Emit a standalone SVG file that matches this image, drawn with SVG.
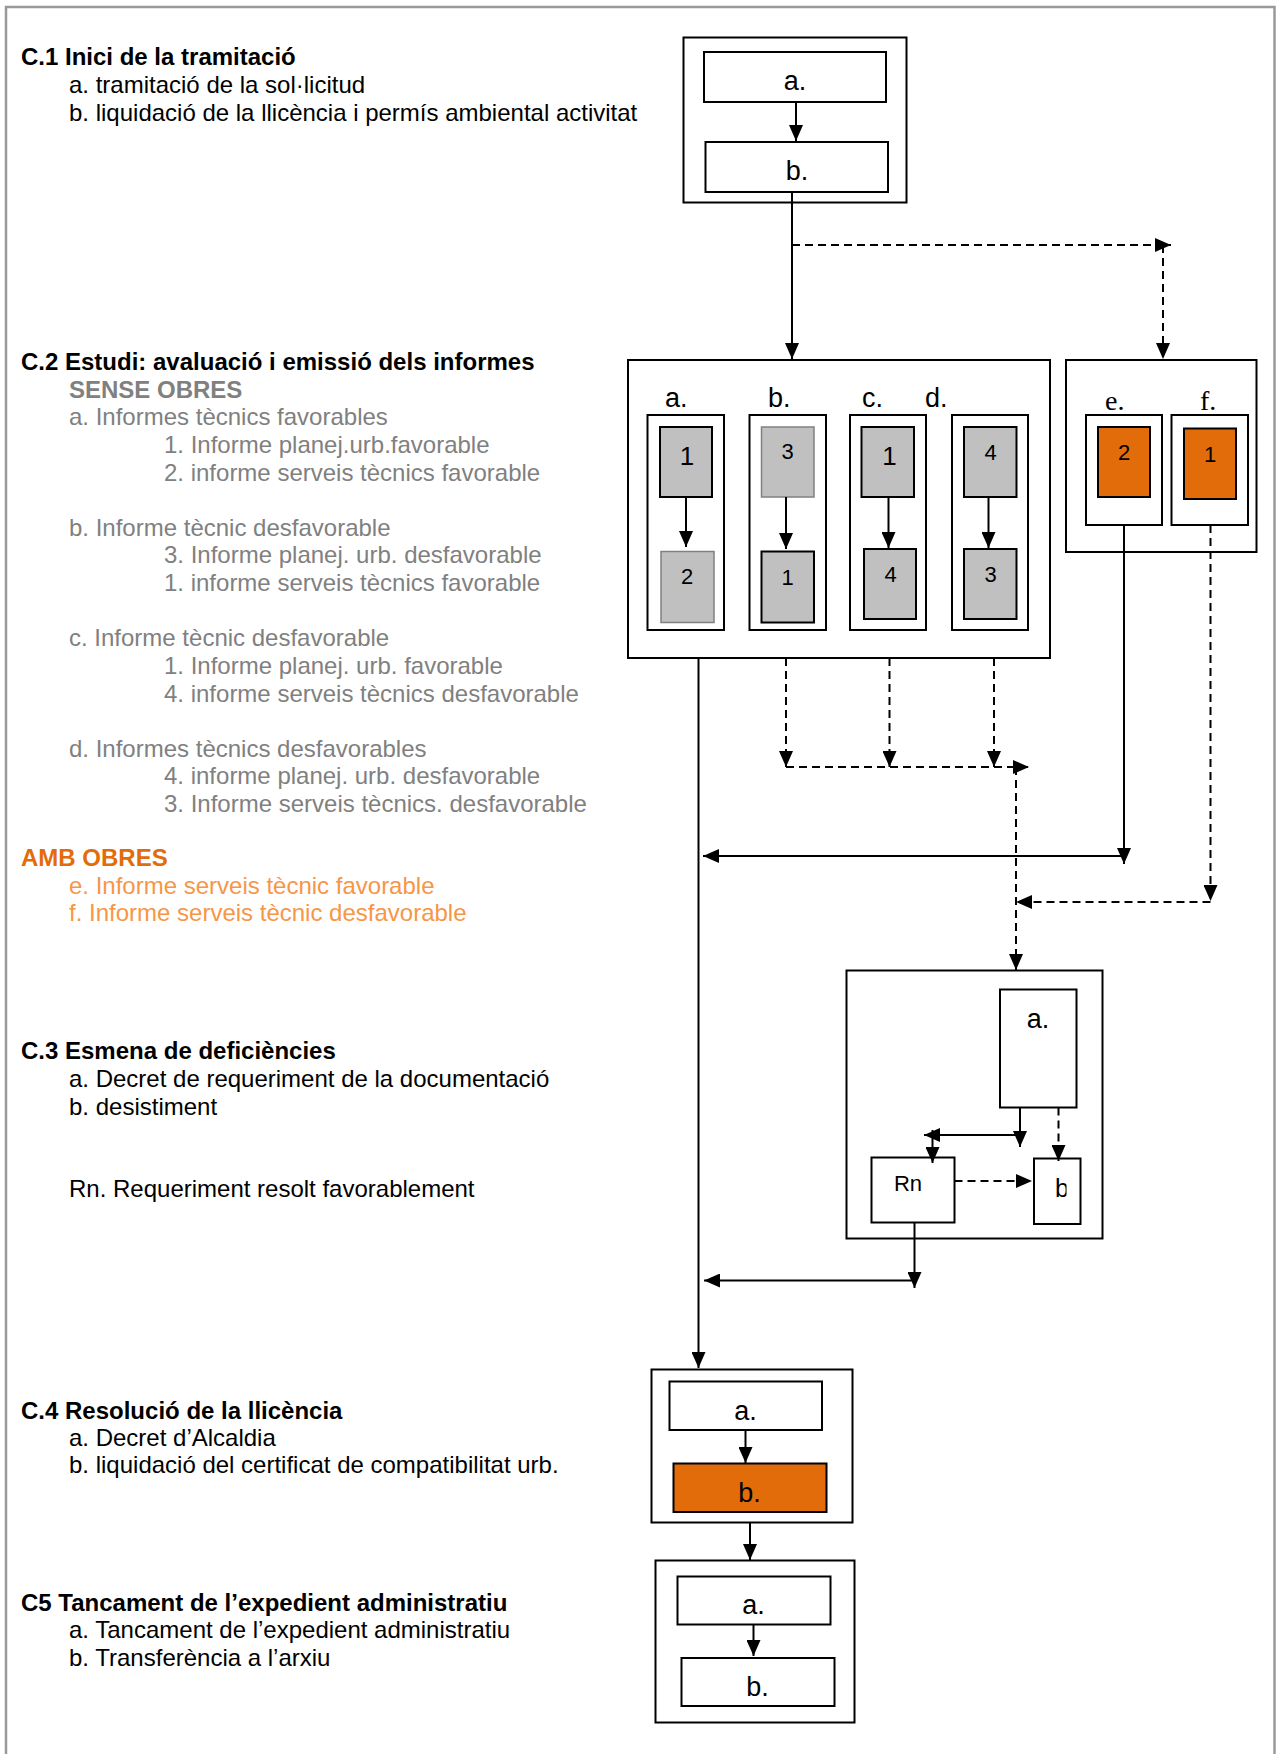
<svg xmlns="http://www.w3.org/2000/svg" width="1276" height="1754" viewBox="0 0 1276 1754">
<defs>
<style>
.t{font-family:"Liberation Sans",Arial,sans-serif;font-size:24px;fill:#000}
.b{font-weight:bold}
.g{fill:#808080}
.o{fill:#E36C0A}
.lo{fill:#F79646}
.box{fill:#fff;stroke:#000;stroke-width:2}
.gbox{fill:#C0C0C0;stroke:#000;stroke-width:2}
.gboxl{fill:#C0C0C0;stroke:#808080;stroke-width:1.5}
.obox{fill:#E36C0A;stroke:#000;stroke-width:2}
.lbl{font-family:"Liberation Sans",Arial,sans-serif;font-size:27px;fill:#000;text-anchor:middle}
.lbls{font-family:"Liberation Sans",Arial,sans-serif;font-size:27px;fill:#000}
.ser{font-family:"Liberation Serif","Times New Roman",serif;font-size:28px;fill:#000}
.num{font-family:"Liberation Sans",Arial,sans-serif;font-size:22px;fill:#000;text-anchor:middle}
.numl{font-family:"Liberation Sans",Arial,sans-serif;font-size:26px;fill:#000;text-anchor:middle}
.s{fill:none;stroke:#000;stroke-width:2;marker-end:url(#ah)}
.sn{fill:none;stroke:#000;stroke-width:2}
.d{fill:none;stroke:#000;stroke-width:2;stroke-dasharray:8 5;marker-end:url(#ah)}
.dn{fill:none;stroke:#000;stroke-width:2;stroke-dasharray:8 5}
</style>
<marker id="ah" markerUnits="userSpaceOnUse" markerWidth="16" markerHeight="14" refX="16" refY="7" orient="auto">
<path d="M0,0 L16,7 L0,14 z" fill="#000"/>
</marker>
<clipPath id="clipb"><rect x="1034" y="1158" width="32.5" height="66"/></clipPath>
</defs>
<rect x="0" y="0" width="1276" height="1754" fill="#fff"/>
<path d="M6,1754 V7 H1274.5 V1754" fill="none" stroke="#999" stroke-width="2.5"/>

<g id="legend">
<text class="t b" x="21" y="65">C.1 Inici de la tramitació</text>
<text class="t" x="69" y="93">a. tramitació de la sol·licitud</text>
<text class="t" x="69" y="121">b. liquidació de la llicència i permís ambiental activitat</text>

<text class="t b" x="21" y="370">C.2 Estudi: avaluació i emissió dels informes</text>
<text class="t b g" x="69" y="398">SENSE OBRES</text>
<text class="t g" x="69" y="425">a. Informes tècnics favorables</text>
<text class="t g" x="164" y="453">1. Informe planej.urb.favorable</text>
<text class="t g" x="164" y="481">2. informe serveis tècnics favorable</text>
<text class="t g" x="69" y="536">b. Informe tècnic desfavorable</text>
<text class="t g" x="164" y="563">3. Informe planej. urb. desfavorable</text>
<text class="t g" x="164" y="591">1. informe serveis tècnics favorable</text>
<text class="t g" x="69" y="646">c. Informe tècnic desfavorable</text>
<text class="t g" x="164" y="674">1. Informe planej. urb. favorable</text>
<text class="t g" x="164" y="702">4. informe serveis tècnics desfavorable</text>
<text class="t g" x="69" y="757">d. Informes tècnics desfavorables</text>
<text class="t g" x="164" y="784">4. informe planej. urb. desfavorable</text>
<text class="t g" x="164" y="812">3. Informe serveis tècnics. desfavorable</text>
<text class="t b o" x="21" y="866">AMB OBRES</text>
<text class="t lo" x="69" y="894">e. Informe serveis tècnic favorable</text>
<text class="t lo" x="69" y="921">f. Informe serveis tècnic desfavorable</text>

<text class="t b" x="21" y="1059">C.3 Esmena de deficiències</text>
<text class="t" x="69" y="1087">a. Decret de requeriment de la documentació</text>
<text class="t" x="69" y="1115">b. desistiment</text>
<text class="t" x="69" y="1197">Rn. Requeriment resolt favorablement</text>

<text class="t b" x="21" y="1419">C.4 Resolució de la llicència</text>
<text class="t" x="69" y="1446">a. Decret d’Alcaldia</text>
<text class="t" x="69" y="1473">b. liquidació del certificat de compatibilitat urb.</text>

<text class="t b" x="21" y="1611">C5 Tancament de l’expedient administratiu</text>
<text class="t" x="69" y="1638">a. Tancament de l’expedient administratiu</text>
<text class="t" x="69" y="1666">b. Transferència a l’arxiu</text>
</g>

<g id="c1">
<rect class="box" x="683.5" y="37.5" width="223" height="165"/>
<rect class="box" x="704" y="52" width="182" height="50"/>
<text class="lbl" x="795" y="90">a.</text>
<rect class="box" x="705.5" y="142" width="182.5" height="50"/>
<text class="lbl" x="797" y="180">b.</text>
</g>

<g id="c2-left">
<rect class="box" x="628" y="360" width="422" height="298"/>
<text class="lbls" x="665" y="407">a.</text>
<text class="lbls" x="768" y="407">b.</text>
<text class="lbls" x="862" y="407">c.</text>
<text class="lbls" x="925" y="407">d.</text>
<rect class="box" x="647.5" y="415" width="76.5" height="215"/>
<rect class="box" x="749.5" y="415" width="76.5" height="215"/>
<rect class="box" x="850" y="415" width="76" height="215"/>
<rect class="box" x="952" y="415" width="76" height="215"/>
<rect class="gbox" x="660" y="427" width="52" height="70"/>
<text class="numl" x="687" y="465">1</text>
<rect class="gboxl" x="661" y="551.5" width="53" height="71"/>
<text class="num" x="687" y="584">2</text>
<rect class="gboxl" x="761.5" y="427" width="52.5" height="70"/>
<text class="num" x="787.5" y="459">3</text>
<rect class="gbox" x="761.5" y="551.5" width="52.5" height="71"/>
<text class="num" x="787.5" y="585">1</text>
<rect class="gbox" x="861.5" y="427" width="52.5" height="70"/>
<text class="numl" x="889.5" y="465">1</text>
<rect class="gbox" x="864" y="549" width="52" height="70"/>
<text class="num" x="890.5" y="582">4</text>
<rect class="gbox" x="964" y="427" width="52.5" height="70"/>
<text class="num" x="990.5" y="460">4</text>
<rect class="gbox" x="964" y="549" width="52.5" height="70"/>
<text class="num" x="990.5" y="582">3</text>
</g>

<g id="c2-right">
<rect class="box" x="1066" y="360" width="190.5" height="192"/>
<text class="ser" x="1105" y="410">e.</text>
<text class="ser" x="1200" y="410">f.</text>
<rect class="box" x="1086" y="415" width="76" height="110"/>
<rect class="box" x="1171.5" y="415" width="76.5" height="110"/>
<rect class="obox" x="1098" y="427" width="52" height="70"/>
<text class="num" x="1124" y="460">2</text>
<rect class="obox" x="1184" y="428.5" width="52" height="70.5"/>
<text class="num" x="1210" y="462">1</text>
</g>

<g id="c3">
<rect class="box" x="846.5" y="970.5" width="256" height="268"/>
<rect class="box" x="1000" y="989.5" width="76.5" height="118"/>
<text class="lbl" x="1038" y="1028">a.</text>
<rect class="box" x="871.5" y="1157.5" width="83" height="65"/>
<text class="num" x="908" y="1191">Rn</text>
<rect class="box" x="1034" y="1158.5" width="46.5" height="65.5"/>
<text class="lbls" style="font-size:25px" clip-path="url(#clipb)" x="1055" y="1197">b</text>
</g>

<g id="c4">
<rect class="box" x="651.5" y="1369.5" width="201" height="153"/>
<rect class="box" x="669.5" y="1381.5" width="152.5" height="48.5"/>
<text class="lbl" x="745.5" y="1420">a.</text>
<rect class="obox" x="673.5" y="1463.5" width="153" height="48.5"/>
<text class="lbl" x="749.5" y="1502">b.</text>
</g>

<g id="c5">
<rect class="box" x="655.5" y="1560.5" width="199" height="162"/>
<rect class="box" x="677.5" y="1576.5" width="153" height="48"/>
<text class="lbl" x="753.5" y="1614">a.</text>
<rect class="box" x="681.5" y="1658" width="153" height="48"/>
<text class="lbl" x="757.5" y="1696">b.</text>
</g>

<g id="connectors">
<path class="s" d="M796,102 V141"/>
<path class="s" d="M792,192 V359"/>
<path class="d" d="M792,245 H1171"/>
<path class="d" d="M1163,245 V359"/>
<path class="s" d="M686,497 V547"/>
<path class="s" d="M786,497 V549"/>
<path class="s" d="M888.5,497 V548"/>
<path class="s" d="M988.5,497 V548"/>
<path class="s" d="M698.5,658 V1368"/>
<path class="d" d="M786,658 V767"/>
<path class="d" d="M889.5,658 V767"/>
<path class="d" d="M994,658 V767"/>
<path class="d" d="M786,767 H1029"/>
<path class="d" d="M1016,767 V970"/>
<path class="s" d="M1124,525 V864"/>
<path class="s" d="M1124,856 H703"/>
<path class="d" d="M1210.5,525 V901"/>
<path class="d" d="M1210.5,902 H1016"/>
<path class="s" d="M1020,1107.5 V1147"/>
<path class="s" d="M1020,1135 H924"/>
<path class="s" d="M932.5,1130 V1163"/>
<path class="d" d="M1058.5,1107.5 V1161"/>
<path class="d" d="M954.5,1181 H1032"/>
<path class="s" d="M914.5,1222.5 V1288"/>
<path class="s" d="M914.5,1280.5 H704"/>
<path class="s" d="M745.5,1430 V1463"/>
<path class="s" d="M750,1522.5 V1560"/>
<path class="s" d="M753.5,1624.5 V1656"/>
</g>
</svg>
